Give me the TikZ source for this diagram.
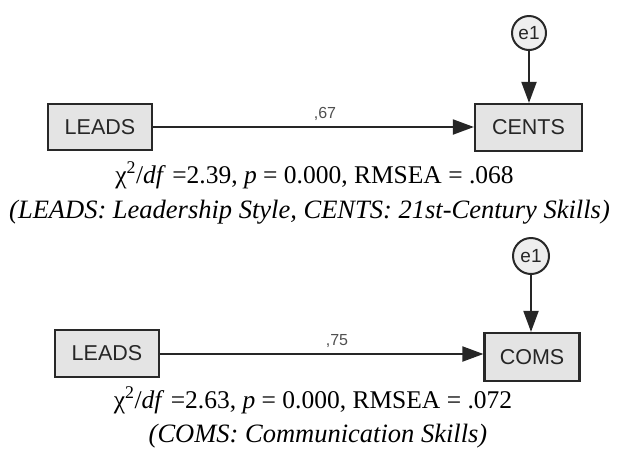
\documentclass[tikz,border=0pt]{standalone}
\usepackage{fontspec}
\setmainfont{Liberation Serif}
\newfontfamily\boxfont{Liberation Sans}
\usetikzlibrary{arrows.meta}
\definecolor{boxfill}{RGB}{228,228,228}
\definecolor{circfill}{RGB}{238,238,238}
\definecolor{edge}{RGB}{40,40,40}
\definecolor{lbl}{RGB}{80,80,80}
\begin{document}
\begin{tikzpicture}[x=1pt,y=-1pt,
  varbox/.style={draw=edge, line width=2.2pt, fill=boxfill, inner sep=0pt,
    font=\boxfont\fontsize{21.5}{24}\selectfont, text=black!85},
  errc/.style={draw=edge, line width=2pt, fill=circfill, circle, inner sep=0pt,
    minimum size=34pt, font=\boxfont\fontsize{19}{21}\selectfont, text=black!85},
  path/.style={draw=black!85, line width=2pt, -{Triangle[length=21pt,width=15pt]}},
  coef/.style={font=\boxfont\fontsize{16}{18}\selectfont, text=lbl},
  fit/.style={font=\fontsize{25.5}{28}\selectfont, anchor=base},
  capt/.style={font=\fontsize{26.5}{29}\selectfont\itshape, anchor=base},
]
\useasboundingbox (0,0) rectangle (618,451);
% top model
\node[varbox, minimum width=104pt, minimum height=46pt] (lead1) at (100,127) {LEADS};
\node[varbox, minimum width=107pt, minimum height=47pt] (cent) at (528.5,127.5) {CENTS};
\node[errc] (e1a) at (529,33) {e1};
\draw[path] (lead1.east |- 0,127) -- (cent.west |- 0,127);
\draw[path] (e1a) -- (e1a |- cent.north);
\node[coef] at (325,114) {,67};
\node[fit] (fit1) at (314.5,183) {χ\textsuperscript{2}/\textit{df} =2.39, \textit{p} = 0.000, RMSEA = .068};
\node[capt] (cap1) at (309.5,218) {(LEADS: Leadership Style, CENTS: 21st-Century Skills)};
% bottom model
\node[varbox, minimum width=104pt, minimum height=47pt] (lead2) at (107,353.5) {LEADS};
\node[varbox, minimum width=95pt, minimum height=48pt] (coms) at (532,357) {COMS};
\node[errc, minimum size=36pt] (e1b) at (531,256) {e1};
\draw[path] (lead2.east |- 0,354) -- (coms.west |- 0,354);
\draw[path] (e1b) -- (e1b |- coms.north);
\node[coef] at (337,341) {,75};
\node[fit] (fit2) at (313,408) {χ\textsuperscript{2}/\textit{df} =2.63, \textit{p} = 0.000, RMSEA = .072};
\node[capt] (cap2) at (318,442) {(COMS: Communication Skills)};
\end{tikzpicture}
\end{document}
